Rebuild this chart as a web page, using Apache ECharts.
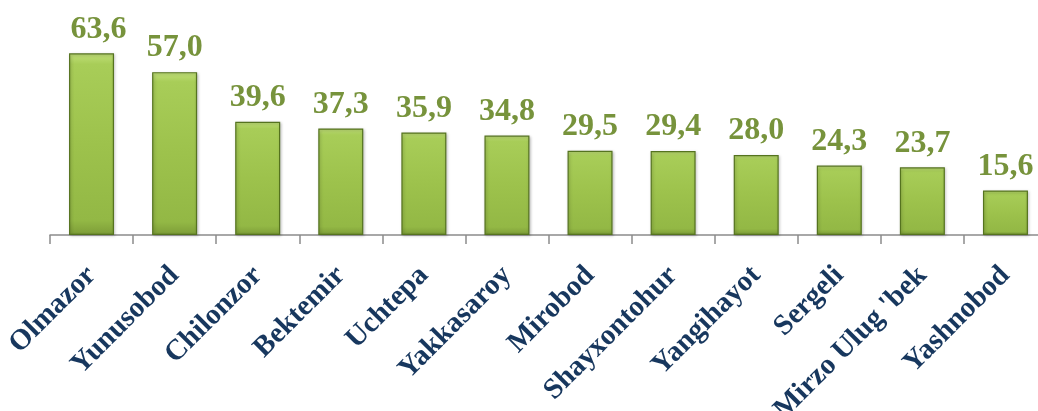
<!DOCTYPE html>
<html>
<head>
<meta charset="utf-8">
<script src="https://cdn.jsdelivr.net/npm/echarts@6/dist/echarts.min.js"></script>
<style>
  html, body { margin: 0; padding: 0; background: #fff; }
  #chart { width: 1038px; height: 411px; }
</style>
</head>
<body>
<div id="chart"></div>
<script>
  // districts and values
  var districts = ['Olmazor', 'Yunusobod', 'Chilonzor', 'Bektemir', 'Uchtepa', 'Yakkasaroy',
    'Mirobod', 'Shayxontohur', 'Yangihayot', 'Sergeli', 'Mirzo Ulug \'bek', 'Yashnobod']
  var values = [63.6, 57.0, 39.6, 37.3, 35.9, 34.8, 29.5, 29.4, 28.0, 24.3, 23.7, 15.6]

  var chart = echarts.init(document.getElementById('chart'))

  var barColor = new echarts.graphic.LinearGradient(0, 0, 0, 1, [
    { offset: 0, color: '#c2e07a' },
    { offset: 0.06, color: '#a8cd58' },
    { offset: 0.5, color: '#9dc24c' },
    { offset: 0.92, color: '#93b845' },
    { offset: 1, color: '#7c9c37' }
  ])

  // first label sits a little to the right in the original
  var barData = values.map(function (v, i) {
    return i === 0 ? { value: v, label: { offset: [7, 0] } } : v
  })

  chart.setOption({
    animation: false,
    grid: {
      left: 50,
      width: 997,
      top: 35,
      height: 200,
      outerBoundsMode: 'none',
      containLabel: false
    },
    xAxis: {
      type: 'category',
      data: districts,
      axisLine: { lineStyle: { color: '#8c8c8c', width: 1.5 } },
      axisTick: { show: true, length: 9, lineStyle: { color: '#8c8c8c', width: 1.5 } },
      axisLabel: {
        rotate: 45,
        interval: 0,
        margin: 36,
        color: '#17375e',
        fontFamily: 'Liberation Serif',
        fontWeight: 'bold',
        fontSize: 29
      }
    },
    yAxis: {
      type: 'value',
      min: 0,
      max: 70,
      show: false,
      splitLine: { show: false }
    },
    series: [{
      type: 'bar',
      data: barData,
      barWidth: 45,
      itemStyle: {
        color: barColor,
        borderColor: '#55731f',
        borderWidth: 1.2,
        shadowColor: 'rgba(0,0,0,0.25)',
        shadowBlur: 3,
        shadowOffsetX: 1,
        shadowOffsetY: 1
      },
      label: {
        show: true,
        position: 'top',
        distance: 8,
        color: '#77933c',
        fontFamily: 'Liberation Serif',
        fontWeight: 'bold',
        fontSize: 32,
        formatter: function (p) {
          return p.value.toFixed(1).replace('.', ',')
        }
      }
    }]
  })
</script>
</body>
</html>
